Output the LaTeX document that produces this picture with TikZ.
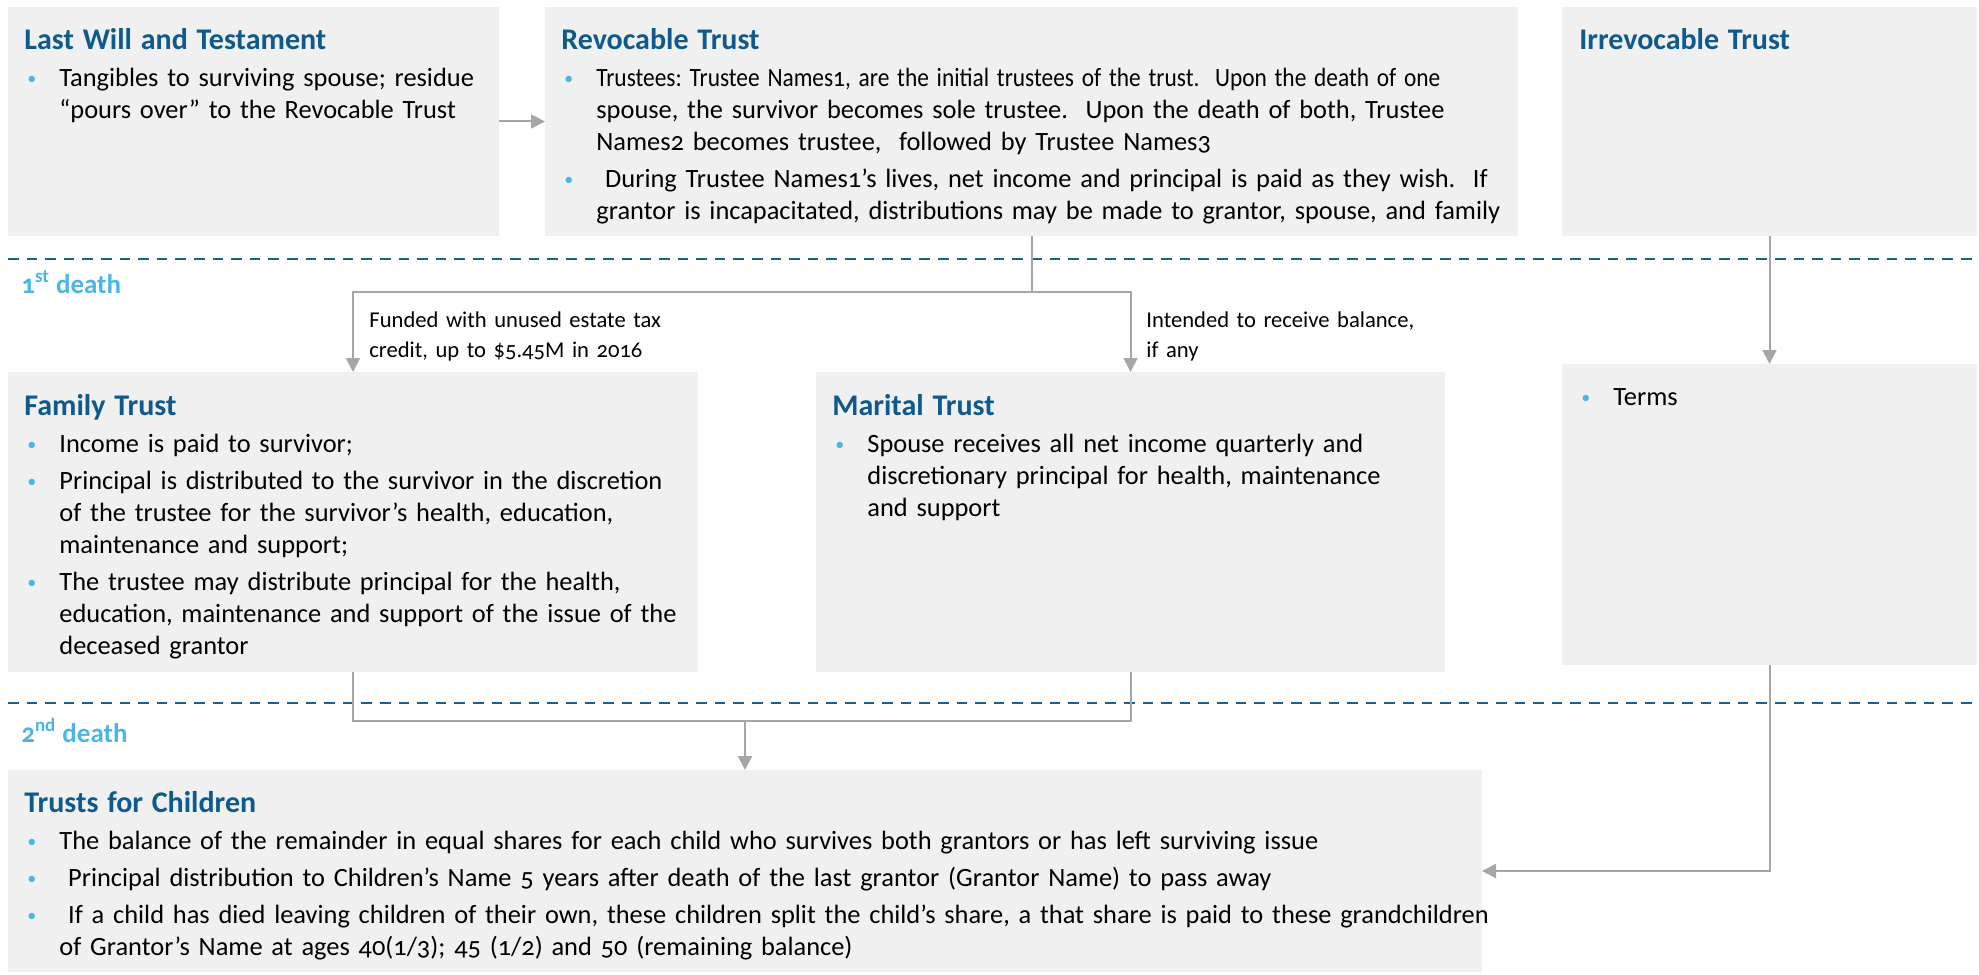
\documentclass[tikz,border=0pt]{standalone}
\usepackage{fontspec}
\setmainfont{Carlito}[Numbers=OldStyle]
\usetikzlibrary{arrows.meta}
\definecolor{titleblue}{HTML}{0E5A8C}
\definecolor{dotblue}{HTML}{4BB5E6}
\definecolor{dashblue}{HTML}{1A5F91}
\definecolor{panelgray}{HTML}{F0F0F0}
\definecolor{linegray}{HTML}{A6A6A6}
\newcommand{\ttl}[1]{{\fontsize{15}{16}\selectfont\bfseries\color{titleblue}#1}}
\newcommand{\dotmark}{\makebox[17.5pt][l]{\hspace{1.5pt}\textcolor{dotblue}{\raisebox{1pt}{\fontsize{9}{9}\selectfont\textbullet}}}}
\newcommand{\itm}[1]{\par\vspace{2.5pt}\noindent\dotmark\parbox[t]{\dimexpr\hsize-17.5pt\relax}{\raggedright\frenchspacing#1\strut}\par\prevdepth=\dp\strutbox}
\begin{document}
\begin{tikzpicture}[x=0.5pt,y=-0.5pt,
	panel/.style = {fill=panelgray, anchor=north west, inner sep=0pt, outer sep=0pt},
	blurb/.style = {anchor=base west, text width=#1, inner sep=0pt, font=\fontsize{13.2}{16}\selectfont,
		execute at begin node={\raggedright\frenchspacing}},
	note/.style = {anchor=base west, text width=170pt, inner sep=0pt, font=\fontsize{11.3}{15}\selectfont,
		execute at begin node={\raggedright}},
	death/.style = {anchor=base west, inner sep=0pt, text=dotblue, font=\fontsize{13.5}{15}\selectfont\bfseries},
	link/.style = {draw=linegray, line width=1pt},
	arrow/.style = {draw=linegray, line width=1pt, -{Triangle[width=7pt,length=7pt]}},
	deathline/.style = {draw=dashblue, line width=1.3pt, dash pattern=on 5.3pt off 4pt}]
	\useasboundingbox (0,0) rectangle (1979,974);

	\node[panel, minimum width=245.5pt, minimum height=114.5pt] (will) at (8,7) {};
	\node[panel, minimum width=486.5pt, minimum height=114.5pt] (revoc) at (545,7) {};
	\node[panel, minimum width=207.5pt, minimum height=114.5pt] (irrev) at (1562,7) {};
	\node[panel, minimum width=345pt, minimum height=150pt] (family) at (8,372) {};
	\node[panel, minimum width=314.5pt, minimum height=150pt] (marital) at (816,372) {};
	\node[panel, minimum width=207.5pt, minimum height=150.5pt] (terms) at (1562,364) {};
	\node[panel, minimum width=737pt, minimum height=101pt] (children) at (8,770) {};

	\node[blurb=236pt] (willtxt) at (24,50) {\ttl{Last Will and Testament}
		\itm{Tangibles to surviving spouse; residue\\``pours over'' to the Revocable Trust}};
	\node[blurb=478pt] (revoctxt) at (561,50) {\ttl{Revocable Trust}
		\itm{\scalebox{0.885}[1]{Trustees: Trustee Names1, are the initial trustees of the trust.~ Upon the death of one}\\spouse, the survivor becomes sole trustee.~ Upon the death of both, Trustee\\Names2 becomes trustee,~ followed by Trustee Names3}
		\itm{\ During Trustee Names1’s lives, net income and principal is paid as they wish.~ If\\grantor is incapacitated, distributions may be made to grantor, spouse, and family}};
	\node[blurb=198pt] (irrevtxt) at (1579,50) {\ttl{Irrevocable Trust}};
	\node[blurb=336pt] (familytxt) at (24,415) {\ttl{Family Trust}
		\itm{Income is paid to survivor;}
		\itm{Principal is distributed to the survivor in the discretion\\of the trustee for the survivor’s health, education,\\maintenance and support;}
		\itm{The trustee may distribute principal for the health,\\education, maintenance and support of the issue of the\\deceased grantor}};
	\node[blurb=305pt] (maritaltxt) at (832,415) {\ttl{Marital Trust}
		\itm{Spouse receives all net income quarterly and\\discretionary principal for health, maintenance\\and support}};
	\node[blurb=198pt] (termstxt) at (1578,405) {\noindent\dotmark Terms};
	\node[blurb=745pt] (childrentxt) at (24,812) {\ttl{Trusts for Children}
		\itm{The balance of the remainder in equal shares for each child who survives both grantors or has left surviving issue}
		\itm{\ Principal distribution to Children’s Name 5 years after death of the last grantor (Grantor Name) to pass away}
		\itm{\ If a child has died leaving children of their own, these children split the child’s share, a that share is paid to these grandchildren\\of Grantor’s Name at ages 40(1/3); 45 (1/2) and 50 (remaining balance)}};

	\draw[deathline] (8,259) -- (1977,259);
	\draw[deathline] (8,703) -- (1977,703);
	\node[death] (first) at (21,293) {1\textsuperscript{st} death};
	\node[death] (second) at (21,742) {2\textsuperscript{nd} death};

	\node[note] (fundnote) at (369,327) {Funded with unused estate tax\newline credit, up to \$5.45M in 2016};
	\node[note] (balnote) at (1146,327) {Intended to receive balance,\newline if any};

	\coordinate (split) at (revoc.south |- 0,292);
	\coordinate (merge) at (children.north |- 0,721);

	\draw[arrow] (will) -- (revoc);
	\draw[link] (revoc.south) -- (split);
	\draw[arrow] (split) -| (family.north);
	\draw[arrow] (split) -| (marital.north);
	\draw[arrow] (irrev.south) -- (terms.north);
	\draw[link] (family.south) |- (merge);
	\draw[link] (marital.south) |- (merge);
	\draw[arrow] (merge) -- (children.north);
	\draw[arrow] (terms.south) |- (children.east);
\end{tikzpicture}
\end{document}
